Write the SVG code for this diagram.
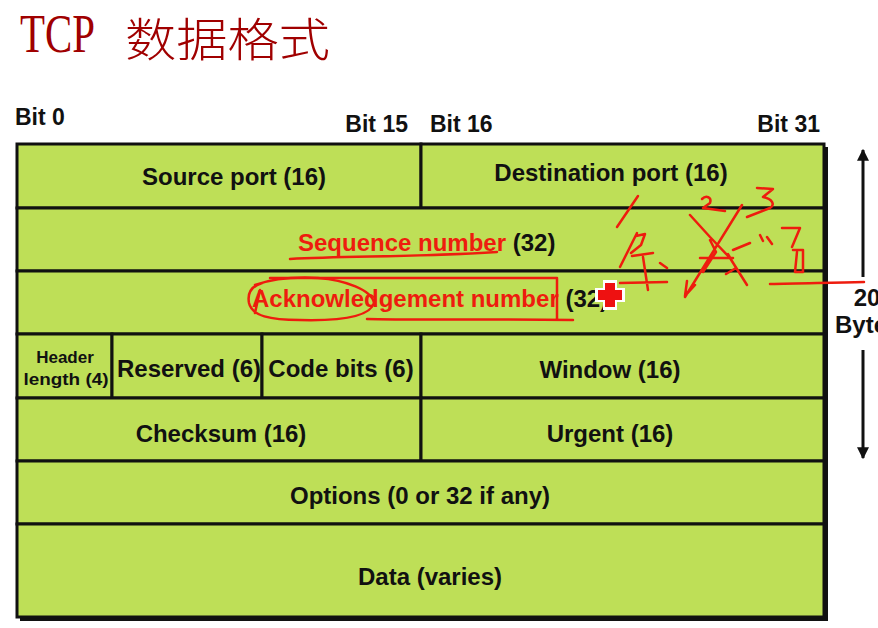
<svg xmlns="http://www.w3.org/2000/svg" width="878" height="628" viewBox="0 0 878 628">
<style>
.lbl{font-family:"Liberation Sans",Arial,sans-serif;font-weight:bold;font-size:24px;fill:#111}
.bit{font-family:"Liberation Sans",Arial,sans-serif;font-weight:bold;font-size:23px;fill:#111}
.small{font-family:"Liberation Sans",Arial,sans-serif;font-weight:bold;font-size:17px;fill:#111}
.red{fill:#EE1C0E}
.cell{fill:#BEDF57;stroke:#111;stroke-width:3}
.ink{fill:none;stroke:#EE1C0E;stroke-width:2.5;stroke-linecap:round;stroke-linejoin:round}
.dim{stroke:#111;stroke-width:3;fill:none}
</style>
<defs>
<marker id="ah" viewBox="0 0 10 10" refX="9" refY="5" markerWidth="4" markerHeight="4" markerUnits="strokeWidth" orient="auto">
<path d="M0,0 L10,5 L0,10 Z" fill="#111"/>
</marker>
</defs>
<rect width="878" height="628" fill="#fff"/>
<g id="title">
<text x="20" y="52" font-family="Liberation Serif,serif" font-size="54" fill="#A00000" textLength="75" lengthAdjust="spacingAndGlyphs">TCP</text>
<text x="125" y="56" font-family="Noto Sans CJK SC,sans-serif" font-weight="300" font-size="46" fill="#A00000" textLength="205" lengthAdjust="spacingAndGlyphs">数据格式</text>
</g>
<g id="bit-labels">
<text class="bit" x="15" y="125">Bit 0</text>
<text class="bit" x="408" y="132" text-anchor="end">Bit 15</text>
<text class="bit" x="430" y="132">Bit 16</text>
<text class="bit" x="820" y="132" text-anchor="end">Bit 31</text>
</g>
<rect x="20" y="147" width="808" height="474" fill="#111"/>
<g id="source-port"><rect class="cell" x="17" y="144" width="404" height="64"/><text class="lbl" x="234" y="185" text-anchor="middle">Source port (16)</text></g>
<g id="destination-port"><rect class="cell" x="421" y="144" width="403" height="64"/><text class="lbl" x="611" y="181" text-anchor="middle">Destination port (16)</text></g>
<g id="sequence-number"><rect class="cell" x="17" y="208" width="807" height="63"/><text class="lbl" x="298" y="251"><tspan class="red">Sequence number</tspan> (32)</text></g>
<g id="ack-number"><rect class="cell" x="17" y="271" width="807" height="63"/><text class="lbl" x="252" y="307"><tspan class="red">Acknowledgement number</tspan> (32)</text></g>
<g id="header-length"><rect class="cell" x="17" y="334" width="95" height="64"/><text class="small" x="65" y="363" text-anchor="middle">Header</text><text class="small" x="66" y="385" text-anchor="middle" textLength="85" lengthAdjust="spacingAndGlyphs">length (4)</text></g>
<g id="reserved"><rect class="cell" x="112" y="334" width="150" height="64"/><text class="lbl" x="189" y="377" text-anchor="middle">Reserved (6)</text></g>
<g id="code-bits"><rect class="cell" x="262" y="334" width="159" height="64"/><text class="lbl" x="341" y="377" text-anchor="middle">Code bits (6)</text></g>
<g id="window"><rect class="cell" x="421" y="334" width="403" height="64"/><text class="lbl" x="610" y="378" text-anchor="middle">Window (16)</text></g>
<g id="checksum"><rect class="cell" x="17" y="398" width="404" height="63"/><text class="lbl" x="221" y="442" text-anchor="middle">Checksum (16)</text></g>
<g id="urgent"><rect class="cell" x="421" y="398" width="403" height="63"/><text class="lbl" x="610" y="442" text-anchor="middle">Urgent (16)</text></g>
<g id="options"><rect class="cell" x="17" y="461" width="807" height="63"/><text class="lbl" x="420" y="504" text-anchor="middle">Options (0 or 32 if any)</text></g>
<g id="data"><rect class="cell" x="17" y="524" width="807" height="93"/><text class="lbl" x="430" y="585" text-anchor="middle">Data (varies)</text></g>
<g id="connectors">
<line class="dim" x1="863" y1="277" x2="863" y2="150" marker-end="url(#ah)"/>
<line class="dim" x1="863" y1="350" x2="863" y2="458" marker-end="url(#ah)"/>
</g>
<g id="size-label">
<text class="lbl" x="867" y="306" text-anchor="middle">20</text>
<text class="lbl" x="835" y="333">Bytes</text>
</g>
<g id="annotations">
<path class="ink" d="M290,259 C350,256 420,257 497,252"/>
<path class="ink" d="M270,278 L557,278 L557,320 M573,320 C480,319 400,320 367,319"/>
<path class="ink" d="M255,285 C275,278 300,277 318,278 C345,280 372,290 374,303 C370,317 340,321 300,320 C270,320 252,316 249,303 C247,292 252,286 262,283 M260,290 L255,313"/>
<path class="ink" d="M638,196 L617,227"/>
<path class="ink" d="M702,199 C706,195 712,197 710,203 L703,208 L725,211"/>
<path class="ink" d="M757,188 L773,189 L763,197 C773,199 775,205 770,208 L747,217"/>
<path class="ink" d="M637,233 L620,267 M636,236 L645,234 L641,245 L631,253 M632,256 L653,253 M643,257 L648,290 M660,263 L667,268 M620,283 L667,282"/>
<path class="ink" d="M690,215 L710,237 L730,258 L747,285 M742,205 L685,297 M687,281 L685,296 L695,285 M700,258 L733,258 M710,240 L716,252 L703,272 M728,254 L736,268 L726,274 M733,250 L750,243"/>
<path class="ink" d="M760,235 L763,241 M767,237 L772,244"/>
<path class="ink" d="M782,228 L800,228 L792,247 M793,250 L803,250 L803,272 L795,272 L797,252"/>
<path class="ink" d="M770,284 C800,283 830,283 864,282"/>
</g>
<g id="cursor">
<rect x="595" y="288" width="30" height="14" fill="#fff"/>
<rect x="603" y="280" width="14" height="30" fill="#fff"/>
<rect x="598" y="290" width="24" height="10" fill="#EE1111"/>
<rect x="605" y="283" width="10" height="24" fill="#EE1111"/>
</g>
</svg>
